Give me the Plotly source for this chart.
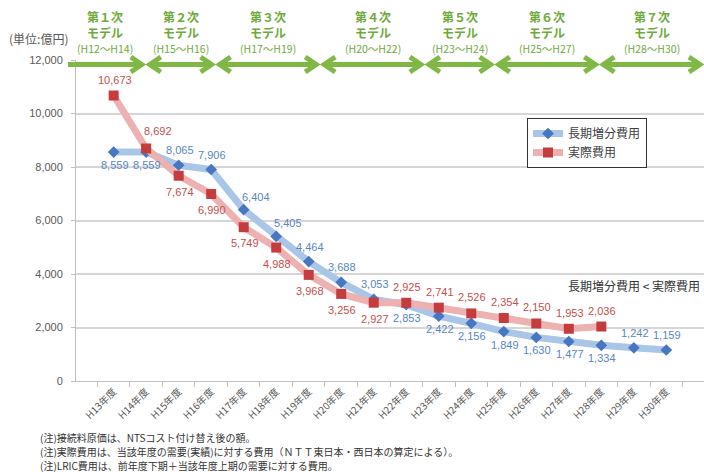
import plotly.graph_objects as go

# ---- data -------------------------------------------------------------
years = ["H13年度", "H14年度", "H15年度", "H16年度", "H17年度", "H18年度",
         "H19年度", "H20年度", "H21年度", "H22年度", "H23年度", "H24年度",
         "H25年度", "H26年度", "H27年度", "H28年度", "H29年度", "H30年度"]
lric_cost = [8559, 8559, 8065, 7906, 6404, 5405, 4464, 3688, 3053, 2853,
             2422, 2156, 1849, 1630, 1477, 1334, 1242, 1159]
actual_cost = [10673, 8692, 7674, 6990, 5749, 4988, 3968, 3256, 2927, 2925,
               2741, 2526, 2354, 2150, 1953, 2036, None, None]

model_names = ["第１次", "第２次", "第３次", "第４次", "第５次", "第６次", "第７次"]
model_periods = [(12, 14), (15, 16), (17, 19), (20, 22), (23, 24), (25, 27), (28, 30)]
first_year = 13

series_names = ["長期増分費用", "実際費用"]
notes = [
    "(注)接続料原価は、NTSコスト付け替え後の額。",
    "(注)実際費用は、当該年度の需要(実績)に対する費用（ＮＴＴ東日本・西日本の算定による）。",
    "(注)LRIC費用は、前年度下期＋当該年度上期の需要に対する費用。",
]

# label placement codes: a = above, b = below, ar = above-right
lric_label_pos = ["b", "b", "a", "a", "ar", "ar", "a", "a", "a", "b",
                  "b", "b", "b", "b", "b", "b", "a", "a"]
actual_label_pos = ["a", "ar", "b", "b", "b", "b", "b", "b", "b", "a",
                    "a", "a", "a", "a", "a", "a"]

# ---- geometry ---------------------------------------------------------
W, H = 704, 472
ML, MR, MT, MB = 76, 0, 60, 91
PW, PH = W - ML - MR, H - MT - MB
N = len(years)

FONT = "Liberation Sans, Noto Sans CJK JP, sans-serif"
JP_FONT = "Noto Sans CJK JP, sans-serif"
GREEN_ARROW = "#80b845"
GREEN_TEXT = "#6eaa3c"
BLUE_LINE, BLUE_MARK, BLUE_TEXT = "#a9c5e7", "#4677c0", "#5686c4"
RED_LINE, RED_MARK, RED_TEXT = "#eeb1b1", "#c43c3e", "#c24f4e"


def px_x(px):
    return (px - ML) / PW


def px_y(py):
    return (H - MB - py) / PH


def boundary(idx):
    """paper x of the left edge of category idx"""
    return idx / N


def label(x, y, text, font, xref="paper", yref="paper", xanchor="center", **kw):
    return dict(x=x, y=y, xref=xref, yref=yref, text=text, showarrow=False,
                xanchor=xanchor, yanchor="middle", font=font, **kw)


fig = go.Figure()

fig.add_trace(go.Scatter(
    x=years, y=lric_cost, name=series_names[0], mode="lines+markers",
    line=dict(color=BLUE_LINE, width=7),
    marker=dict(symbol="diamond", size=9, color=BLUE_MARK),
))
fig.add_trace(go.Scatter(
    x=years, y=actual_cost, name=series_names[1], mode="lines+markers",
    line=dict(color=RED_LINE, width=7),
    marker=dict(symbol="square", size=10, color=RED_MARK),
))

annotations = []

# value labels
blue_off = {"a": (1, -15), "b": (1, 13), "ar": (12, -13)}
red_off = {"a": (1, -16), "b": (1, 16), "ar": (12, -17)}
for cat, v, p in zip(years, lric_cost, lric_label_pos):
    dx, dy = blue_off[p]
    annotations.append(label(cat, v, f"{v:,}", dict(family=FONT, size=11, color=BLUE_TEXT),
                             xref="x", yref="y", xshift=dx, yshift=-dy))
for cat, v, p in zip(years, actual_cost, actual_label_pos):
    if v is None:
        continue
    dx, dy = red_off[p]
    annotations.append(label(cat, v, f"{v:,}", dict(family=FONT, size=11, color=RED_TEXT),
                             xref="x", yref="y", xshift=dx, yshift=-dy))

# model period arrows and headers
shapes = []
arrow_y = px_y(64.5)
head_dx = 11 / PW
head_dy = 7.5 / PH
tip_gap = 4 / PW
stub_left = px_x(68)
head_font = dict(family=JP_FONT, size=12, color=GREEN_TEXT)
for name, (a, b) in zip(model_names, model_periods):
    left_b = boundary(a - first_year)
    right_b = boundary(b - first_year + 1)
    has_left_head = left_b >= 0
    x0 = left_b + tip_gap if has_left_head else max(left_b, stub_left)
    x1 = right_b - tip_gap
    shapes.append(dict(type="line", xref="paper", yref="paper",
                       x0=x0 + (2 / PW if has_left_head else 0), x1=x1 - 2 / PW,
                       y0=arrow_y, y1=arrow_y,
                       line=dict(color=GREEN_ARROW, width=5)))
    shapes.append(dict(type="path", xref="paper", yref="paper",
                       path=f"M {x1 - head_dx},{arrow_y + head_dy} L {x1},{arrow_y} "
                            f"L {x1 - head_dx},{arrow_y - head_dy}",
                       line=dict(color=GREEN_ARROW, width=5)))
    if has_left_head:
        shapes.append(dict(type="path", xref="paper", yref="paper",
                           path=f"M {x0 + head_dx},{arrow_y + head_dy} L {x0},{arrow_y} "
                                f"L {x0 + head_dx},{arrow_y - head_dy}",
                           line=dict(color=GREEN_ARROW, width=5)))
    cx = (x0 + x1) / 2
    header = (f"<b>{name}</b><br><b>モデル</b><br>"
              f"<span style='font-size:10.5px'>(H{a}～H{b})</span>")
    annotations.append(label(cx, px_y(32), header, head_font))

# unit label
annotations.append(label(px_x(38), px_y(38), "(単位:億円)",
                         dict(family=JP_FONT, size=12, color="#595959")))

# comparison note
annotations.append(label(px_x(702), px_y(285), "長期増分費用 &lt; 実際費用",
                         dict(family=JP_FONT, size=12, color="#333333"), xanchor="right"))

# footnotes
for i, note in enumerate(notes):
    annotations.append(label(px_x(38), px_y(437 + 14 * i), note,
                             dict(family=JP_FONT, size=10, color="#333333"), xanchor="left"))

fig.update_layout(
    width=W, height=H,
    margin=dict(l=ML, r=MR, t=MT, b=MB),
    paper_bgcolor="white", plot_bgcolor="white",
    font=dict(family=FONT, color="#595959"),
    showlegend=True,
    legend=dict(x=px_x(527), y=px_y(118), xanchor="left", yanchor="top",
                bgcolor="white", bordercolor="#333333", borderwidth=1,
                font=dict(family=JP_FONT, size=12, color="#404040"),
                tracegroupgap=0),
    xaxis=dict(type="category", showgrid=False, showline=True, linecolor="#bfbfbf",
               linewidth=1, ticks="outside", tickson="boundaries", ticklen=5,
               tickcolor="#bfbfbf", tickangle=-45,
               tickfont=dict(family=JP_FONT, size=10, color="#595959")),
    yaxis=dict(range=[0, 12000], dtick=2000, tickformat=",", showgrid=True,
               gridcolor="#d6d6d6", gridwidth=1.5, zeroline=False, showline=True,
               linecolor="#bfbfbf", ticks="outside", ticklen=4, tickcolor="#bfbfbf",
               ticklabelstandoff=6,
               tickfont=dict(family=FONT, size=11, color="#595959")),
    shapes=shapes,
    annotations=annotations,
)

fig.write_html("out.html")
